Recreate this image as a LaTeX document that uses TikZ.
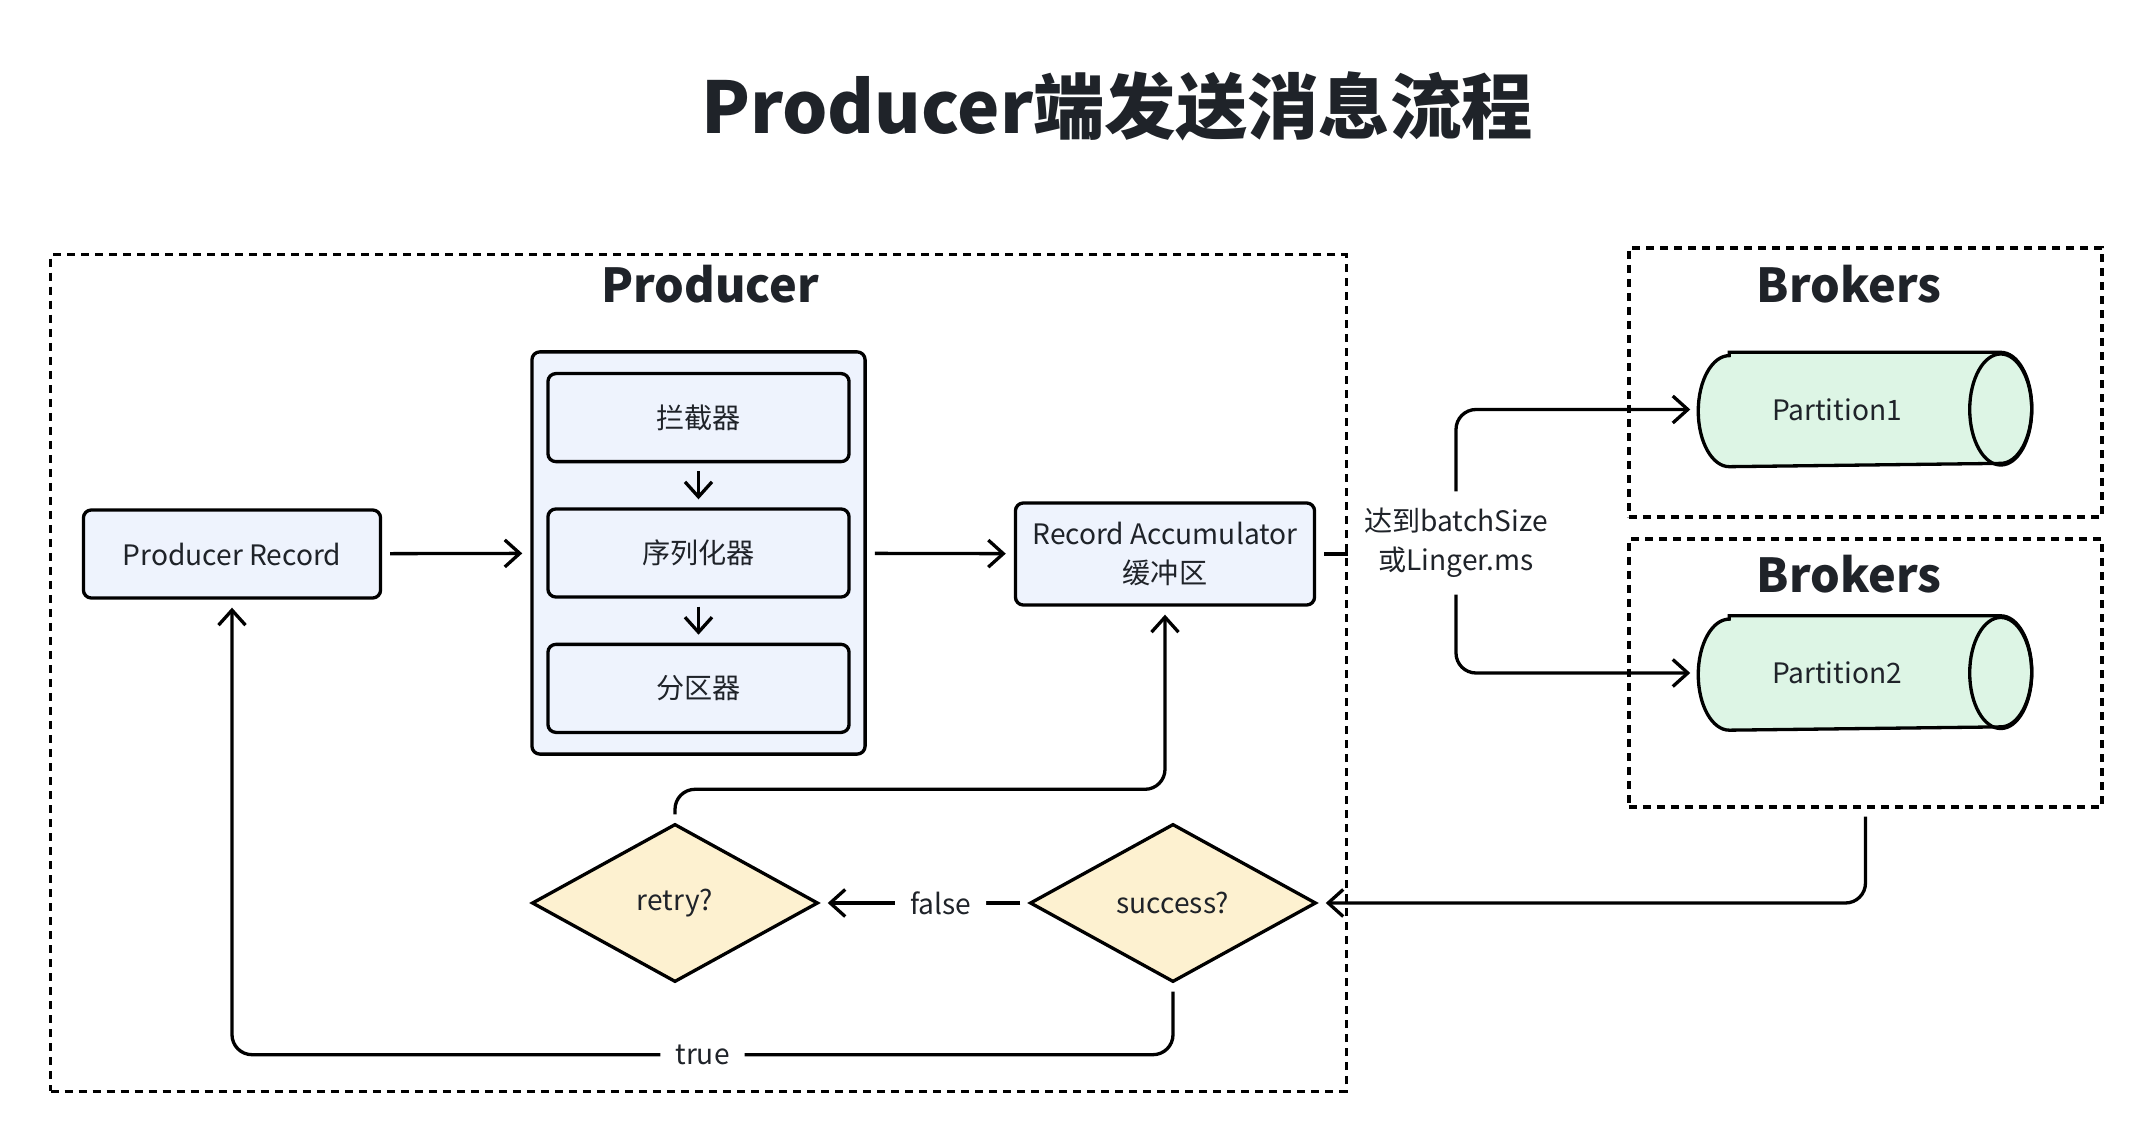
\documentclass[tikz,border=0pt]{standalone}
\usepackage{fontspec}
\setmainfont{Noto Sans CJK SC}
\usepackage{xcolor}
\usetikzlibrary{positioning,shapes.geometric,arrows.meta}
\definecolor{ink}{HTML}{1F2329}
\definecolor{boxblue}{HTML}{EEF3FD}
\definecolor{partgreen}{HTML}{DDF5E5}
\definecolor{askyellow}{HTML}{FDF1D0}

\begin{document}
\begin{tikzpicture}[%
    x=0.01cm,
    y=-0.01cm,
    line width=0.033cm,
    >={Straight Barb[length=0.15cm,width=0.27cm]},
    every node/.style={text=ink, font=\fontsize{8}{11.2}\selectfont},
    flow/.style={%
      ->,
      shorten >=0.08cm,
      shorten <=0.08cm,
      rounded corners=0.2cm
    },
    dashbox/.style={%
      draw,
      dash pattern=on 0.08cm off 0.06cm,
      inner sep=0pt
    },
    heading/.style={%
      font=\bfseries\fontsize{13.3}{16}\selectfont
    },
    stage/.style={%
      draw,
      fill=boxblue,
      rounded corners=0.08cm,
      minimum width=3.01cm,
      minimum height=0.88cm,
      align=center
    },
    part/.style={%
      minimum width=3.3cm,
      minimum height=1.11cm
    },
    ask/.style={%
      diamond,
      draw,
      fill=askyellow,
      aspect=1.81,
      inner sep=0pt,
      minimum width=2.86cm,
      minimum height=1.58cm
    },
    cond/.style={%
      fill=white,
      inner sep=0.15cm,
      align=center
    }
  ]
    \useasboundingbox (0,0) rectangle (2150,1140);

    \node[font=\bfseries\fontsize{20.3}{24}\selectfont] (title) at (1117,106) {Producer端发送消息流程};

    \node[dashbox, minimum width=12.95cm, minimum height=8.36cm] (prod) at (698.5,673) {};
    \node[heading] (prodt) at (710,284) {Producer};
    \node[dashbox, minimum width=4.73cm, minimum height=2.69cm] (bk1) at (1865.5,382.5) {};
    \node[heading] (bk1t) at (1849,284) {Brokers};
    \node[dashbox, minimum width=4.73cm, minimum height=2.68cm] (bk2) at (1865.5,673) {};
    \node[heading] (bk2t) at (1849,574) {Brokers};

    \node[stage, minimum width=2.97cm] (rec) at (232,554) {Producer Record};
    \node[stage, minimum width=3.33cm, minimum height=4.02cm] (chain) at (698.5,553) {};
    \node[stage] (ser) at (698.5,553) {序列化器};
    \node[stage] (icp) [above=0.44cm of ser] {拦截器};
    \node[stage] (prt) [below=0.44cm of ser] {分区器};
    \node[stage, minimum width=2.99cm, minimum height=1.02cm] (acc) at (1165,554) {Record Accumulator\\缓冲区};

    % partitions: cylinders drawn round two empty nodes
    \node[part] (p1) at (1865,409.5) {};
    \node[part] (p2) at (1865,673) {};
    \foreach \p in {p1,p2} {
      \draw[fill=partgreen] ([xshift=0.31cm]\p.north west) -- ([xshift=-0.31cm]\p.north east)
        arc[start angle=90, end angle=-90, x radius=0.31cm, y radius=0.555cm]
        -- ([xshift=0.31cm]\p.south west)
        arc[start angle=270, end angle=90, x radius=0.31cm, y radius=0.555cm] -- cycle;
      \draw ([xshift=-0.31cm]\p.east) ellipse[x radius=0.31cm, y radius=0.555cm];
    }
    \node (p1t) at ([xshift=-0.28cm]p1.center) {Partition1};
    \node (p2t) at ([xshift=-0.28cm]p2.center) {Partition2};

    \node[ask] (retry) at (675,903) {retry?};
    \node[ask] (succ) at (1173,903) {success?};

    \draw[flow] (rec) -- (chain);
    \draw[flow] (chain) -- (acc);
    \draw[flow] (icp) -- (ser);
    \draw[flow] (ser) -- (prt);

    \node[cond] (cond) at (1456,543) {达到batchSize\\或Linger.ms};
    \draw[shorten <=0.08cm] (acc.east) -- (acc.east -| cond.west);
    \draw[flow, shorten <=0pt] (cond.north) |- (p1.west);
    \draw[flow, shorten <=0pt] (cond.south) |- (p2.west);

    \draw[flow] (succ.west) -- node[cond, pos=0.42] {false} (retry.east);
    \draw[flow] (retry.north) -- ++(0,-33) -| (acc.south);
    \draw[flow] (succ.south) -- ++(0,71) -| node[cond, pos=0.25] {true} (rec.south);
    \draw[flow] (bk2.south) |- (succ.east);
  \end{tikzpicture}
\end{document}
